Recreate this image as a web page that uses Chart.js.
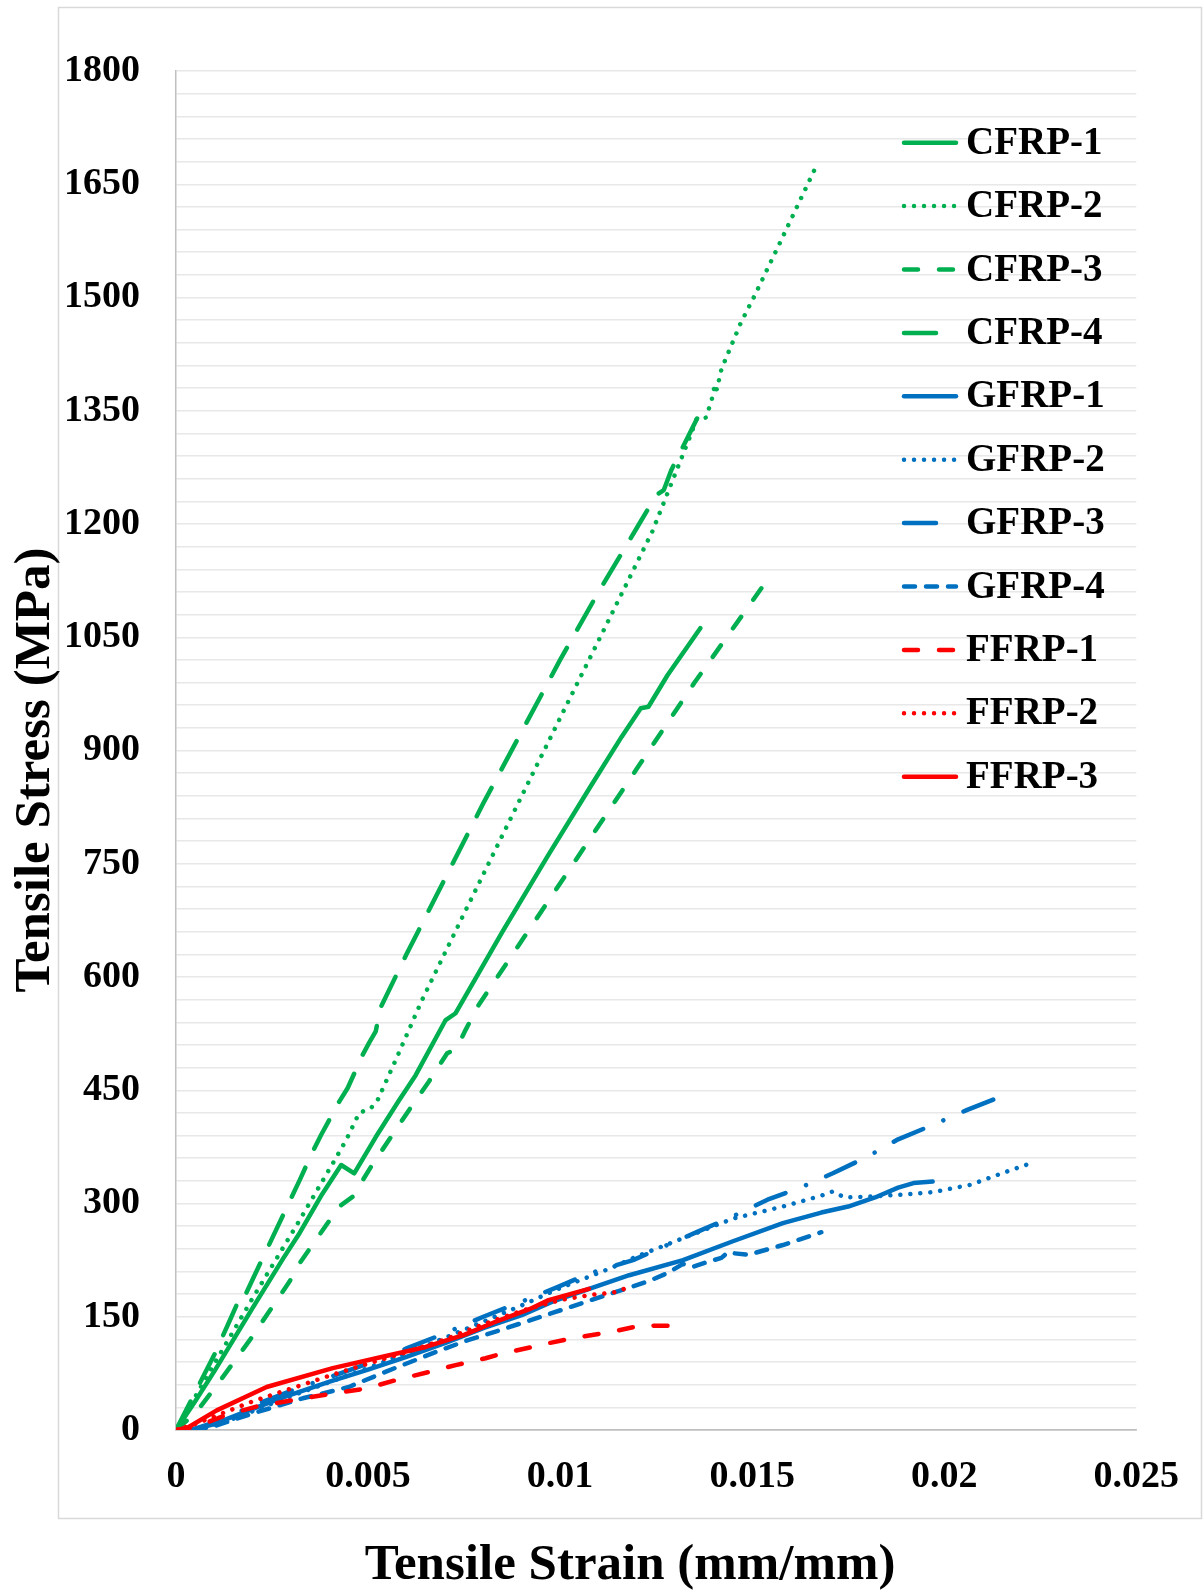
<!DOCTYPE html>
<html lang="en">
<head>
  <meta charset="utf-8">
  <title>Tensile Stress - Strain</title>
  <script src="https://cdn.jsdelivr.net/npm/chart.js"></script>
  <style>
    body { margin: 0; background: #fff; }
    #chart { display: block; }
  </style>
</head>
<body>
  <canvas id="chart" width="1203" height="1594"></canvas>
  <script>
    // [strain (mm/mm), stress (MPa)]
    const CFRP_1 = [[0,0],[0.0005,38],[0.001,78],[0.0015,120],[0.002,162],[0.0028,228],[0.00322,261],[0.0038,312],[0.0043,351],[0.00464,340],[0.0052,388],[0.0058,436],[0.00624,470],[0.00702,543],[0.00728,552],[0.0085,660],[0.0097,762],[0.0108,853],[0.0116,918],[0.0121,956],[0.0123,958],[0.0128,1000],[0.01365,1062]];
    const CFRP_2 = [[0,0],[0.001,88],[0.002,175],[0.00322,278],[0.00408,353],[0.00443,384],[0.00477,420],[0.00507,426],[0.00525,437],[0.00572,490],[0.00641,570],[0.0075,684],[0.0088,819],[0.01,943],[0.0112,1066],[0.0124,1190],[0.0134,1318],[0.01355,1339],[0.0138,1341],[0.01395,1365],[0.01403,1385],[0.01408,1378],[0.0142,1405],[0.01471,1467],[0.01506,1502],[0.01571,1571],[0.01665,1672]];
    const CFRP_3 = [[0,0],[0.0005,22],[0.001,55],[0.00192,119],[0.00296,197],[0.00322,221],[0.00425,296],[0.0046,309],[0.00508,349],[0.00607,424],[0.00659,462],[0.00706,499],[0.0073,505],[0.00754,530],[0.00788,563],[0.009,648],[0.0105,762],[0.012,876],[0.0135,990],[0.01552,1135]];
    const CFRP_4 = [[0,0],[0.0005,50],[0.001,100],[0.0014,145],[0.0016,168],[0.00168,165],[0.002,200],[0.00322,331],[0.00356,369],[0.00378,391],[0.00425,435],[0.00447,453],[0.00486,497],[0.00503,513],[0.0052,528],[0.00533,560],[0.006,630],[0.007,730],[0.008,830],[0.009,925],[0.01,1020],[0.011,1110],[0.012,1195],[0.0125,1238],[0.0127,1245],[0.0129,1272],[0.01362,1345]];
    const GFRP_1 = [[0.0004,0],[0.001,8],[0.002,28],[0.003,47],[0.004,64],[0.005,80],[0.006,97],[0.007,115],[0.008,135],[0.009,152],[0.0098,170],[0.0107,186],[0.0118,205],[0.0132,225],[0.0145,250],[0.0158,274],[0.0168,288],[0.0175,296],[0.0182,308],[0.0188,321],[0.0192,327],[0.0197,329]];
    const GFRP_2 = [[0.0005,0],[0.0015,15],[0.003,45],[0.005,82],[0.007,122],[0.009,165],[0.01,188],[0.0113,214],[0.012,230],[0.0132,254],[0.0145,280],[0.0158,296],[0.0165,306],[0.0169,312],[0.0171,316],[0.0174,308],[0.018,309],[0.019,312],[0.0197,315],[0.0207,325],[0.0215,340],[0.02235,355]];
    const GFRP_3 = [[0.0004,0],[0.001,10],[0.002,32],[0.003,52],[0.004,70],[0.005,88],[0.006,108],[0.007,128],[0.008,150],[0.009,170],[0.00996,190],[0.0108,208],[0.0119,225],[0.0127,243],[0.0136,263],[0.0145,283],[0.0154,305],[0.0163,322],[0.0171,340],[0.018,362],[0.0188,385],[0.0197,404],[0.0206,424],[0.0213,438]];
    const GFRP_4 = [[0.0005,0],[0.001,5],[0.002,22],[0.0033,42],[0.0045,57],[0.0055,78],[0.0069,106],[0.0076,119],[0.0083,130],[0.0098,155],[0.0108,172],[0.0123,197],[0.0128,208],[0.0132,220],[0.01345,216],[0.0138,222],[0.0142,228],[0.01436,235],[0.0149,232],[0.0158,245],[0.0168,262]];
    const FFRP_1 = [[0,0],[0.0005,4],[0.00131,20],[0.00209,31],[0.00356,44],[0.00417,49],[0.00495,55],[0.00572,66],[0.00659,77],[0.00728,86],[0.00806,95],[0.0084,100],[0.0097,115],[0.01048,123],[0.01134,130],[0.01216,139],[0.0125,138],[0.0129,138]];
    const FFRP_2 = [[0,0],[0.0005,8],[0.001,18],[0.002,38],[0.003,55],[0.004,72],[0.005,88],[0.006,103],[0.007,120],[0.008,140],[0.009,158],[0.01,172],[0.0108,179],[0.0112,181],[0.0115,183],[0.0118,190]];
    const FFRP_3 = [[0,0],[0.0003,3],[0.00106,26],[0.00236,57],[0.00408,82],[0.00538,97],[0.0065,110],[0.0075,126],[0.0084,145],[0.0092,160],[0.0097,172],[0.01075,187]];

    const seriesNames = ['CFRP-1', 'CFRP-2', 'CFRP-3', 'CFRP-4', 'GFRP-1', 'GFRP-2', 'GFRP-3', 'GFRP-4', 'FFRP-1', 'FFRP-2', 'FFRP-3'];
    const seriesData = [CFRP_1, CFRP_2, CFRP_3, CFRP_4, GFRP_1, GFRP_2, GFRP_3, GFRP_4, FFRP_1, FFRP_2, FFRP_3];

    const xMin = 0, xMax = 0.025, xStep = 0.005;
    const yMin = 0, yMax = 1800, yStep = 30, yLabelStep = 150;

    const green = '#00B050', blue = '#0070C0', red = '#FF0000';
    const SOLID = [], DOT = [0.01, 10], DASH = [14, 21], LONG = [32, 21], LONG_DOT = [32, 22, 0.01, 22], SHORT = [11, 11];
    const styles = [
      [green, SOLID], [green, DOT], [green, DASH], [green, LONG],
      [blue, SOLID], [blue, DOT], [blue, LONG_DOT], [blue, SHORT],
      [red, DASH], [red, DOT], [red, SOLID]
    ];

    const serif = '"Liberation Serif", "Times New Roman", serif';

    // frame, axis titles and the legend inside the plot
    const decor = {
      id: 'decor',
      beforeDraw(chart) {
        const ctx = chart.ctx;
        ctx.save();
        ctx.fillStyle = '#fff';
        ctx.fillRect(0, 0, chart.width, chart.height);
        ctx.strokeStyle = '#d9d9d9';
        ctx.lineWidth = 1.5;
        ctx.strokeRect(58.5, 7.5, 1143, 1511);
        ctx.restore();
      },
      afterDraw(chart) {
        const ctx = chart.ctx;
        ctx.save();
        ctx.fillStyle = '#000';
        ctx.font = 'bold 51px ' + serif;
        ctx.textAlign = 'center';
        ctx.textBaseline = 'middle';
        ctx.fillText('Tensile Strain (mm/mm)', 630, 1566);
        ctx.translate(36, 770);
        ctx.rotate(-Math.PI / 2);
        ctx.fillText('Tensile Stress (MPa)', 0, 0);
        ctx.restore();

        ctx.save();
        ctx.font = 'bold 39px ' + serif;
        ctx.textAlign = 'left';
        ctx.textBaseline = 'middle';
        chart.data.datasets.forEach((ds, i) => {
          const y = 142.7 + 63.4 * i;
          ctx.strokeStyle = ds.borderColor;
          ctx.lineWidth = ds.borderWidth;
          ctx.lineCap = 'round';
          ctx.setLineDash(ds.borderDash);
          ctx.beginPath();
          ctx.moveTo(904, y);
          ctx.lineTo(956, y);
          ctx.stroke();
          ctx.setLineDash([]);
          ctx.fillStyle = '#000';
          ctx.fillText(ds.label, 966, y + 1);
        });
        ctx.restore();
      }
    };

    new Chart(document.getElementById('chart'), {
      type: 'scatter',
      data: {
        datasets: seriesData.map((pts, i) => ({
          label: seriesNames[i],
          data: pts.map(p => ({ x: p[0], y: p[1] })),
          showLine: true,
          borderColor: styles[i][0],
          backgroundColor: styles[i][0],
          borderDash: styles[i][1],
          borderWidth: 4.5,
          borderCapStyle: 'round',
          borderJoinStyle: 'round',
          pointRadius: 0,
          tension: 0,
          order: seriesData.length - i
        }))
      },
      options: {
        responsive: false,
        animation: false,
        devicePixelRatio: 1,
        layout: { padding: { left: 0, top: 71, right: 63, bottom: 0 } },
        plugins: {
          legend: { display: false },
          tooltip: { enabled: false }
        },
        scales: {
          x: {
            type: 'linear',
            min: xMin,
            max: xMax,
            grid: { display: false, drawTicks: false },
            border: { display: true, color: '#bfbfbf', width: 1.5 },
            ticks: {
              stepSize: xStep,
              padding: 24,
              color: '#000',
              font: { family: serif, size: 38, weight: 'bold' },
              maxRotation: 0,
              callback: v => String(Number(v.toFixed(3)))
            },
            afterFit: scale => { scale.height = 164; }
          },
          y: {
            type: 'linear',
            min: yMin,
            max: yMax,
            grid: {
              drawTicks: false,
              lineWidth: 1.5,
              color: ctx => ctx.tick && ctx.tick.value === 0 ? '#bfbfbf' : '#e8e8e8'
            },
            border: { display: true, color: '#bfbfbf', width: 1.5 },
            ticks: {
              stepSize: yStep,
              autoSkip: false,
              padding: 36,
              color: '#000',
              font: { family: serif, size: 38, weight: 'bold' },
              callback: v => (v % yLabelStep === 0 ? String(v) : '')
            },
            afterFit: scale => { scale.width = 176; }
          }
        }
      },
      plugins: [decor]
    });
  </script>
</body>
</html>
